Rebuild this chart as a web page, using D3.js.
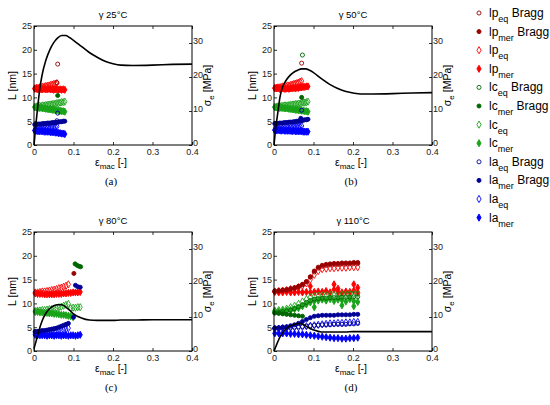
<!DOCTYPE html>
<html lang="en">
<head>
<meta charset="UTF-8">
<script src="https://d3js.org/d3.v7.min.js"></script>
<title>Lamellar dimensions vs strain</title>
<style>
  body { margin: 0; background: #fff; }
  svg { font-family: "Liberation Sans", Arial, sans-serif; }
  .tick text { font-size: 9px; fill: #222; }
  .domain { display: none; }
</style>
</head>
<body>
<div id="container"></div>
<script>
// ---- axis ticks / labels
var strainTicks = [0, 0.1, 0.2, 0.3, 0.4];
var lTicks = [0, 5, 10, 15, 20, 25];
var sigmaTicks = [0, 10, 20, 30];
var panelTitles = ["γ 25°C", "γ 50°C", "γ 80°C", "γ 110°C"];
var panelLetters = ["(a)", "(b)", "(c)", "(d)"];

// ---- stress-strain curves (MPa)
var strainS = [0, 0.005, 0.01, 0.015, 0.02, 0.03, 0.04, 0.05, 0.06, 0.07, 0.08, 0.09, 0.1, 0.12, 0.14, 0.16, 0.18, 0.2, 0.22, 0.25, 0.3, 0.35, 0.4];
var stressA = [0, 6.3, 11.9, 16.8, 20.3, 24.9, 28, 30.1, 31.5, 32.2, 32.2, 31.6, 30.8, 29, 27.2, 25.8, 24.6, 23.9, 23.5, 23.4, 23.5, 23.7, 23.8];
var stressB = [0, 5.6, 9.8, 14, 16.5, 18.9, 20.4, 21.4, 22, 22.4, 22.4, 22, 21.3, 19.5, 17.9, 16.7, 15.8, 15.3, 15, 15, 15.1, 15.3, 15.4];
var stressC = [0.7, 2.8, 4.9, 7, 8.7, 11.1, 12.5, 13.3, 13.6, 13.6, 13, 12, 10.9, 9.7, 9.1, 9, 9, 9, 9.1, 9.1, 9.2, 9.2, 9.2];
var stressD = [0, 1.4, 2.8, 4.1, 5, 6.4, 7.3, 7.8, 8.1, 8, 7.4, 6.7, 6.2, 5.6, 5.6, 5.6, 5.6, 5.7, 5.7, 5.7, 5.7, 5.7, 5.7];

// ---- (a) 25°C, strain points
var strainA = [0.002, 0.006, 0.010, 0.014, 0.018, 0.022, 0.026, 0.030, 0.034, 0.038, 0.042, 0.046, 0.050, 0.054, 0.058, 0.062, 0.066, 0.070, 0.074, 0.078];
var lpEqA = [11.9, 12.0, 12.0, 12.1, 12.2, 12.2, 12.3, 12.4, 12.4, 12.5, 12.6, 12.7, 12.8, 12.9, 13.0];
var lpMerA = [11.8, 11.8, 11.7, 11.8, 11.7, 11.7, 11.8, 11.7, 11.7, 11.8, 11.7, 11.7, 11.6, 11.7, 11.7, 11.6, 11.7, 11.6, 11.7, 11.6];
var lcEqA = [8.0, 8.1, 8.1, 8.2, 8.2, 8.3, 8.3, 8.4, 8.4, 8.5, 8.5, 8.6, 8.6, 8.7, 8.8, 8.8, 8.9, 9.0, 9.0, 9.1];
var lcMerA = [7.9, 7.9, 7.8, 7.8, 7.8, 7.7, 7.7, 7.6, 7.6, 7.5, 7.5, 7.4, 7.4, 7.3, 7.3, 7.2, 7.2, 7.1, 7.1, 7.0];
var laMerBraggA = [4.3, 4.3, 4.4, 4.4, 4.4, 4.5, 4.5, 4.5, 4.6, 4.6, 4.6, 4.7, 4.7, 4.7, 4.8, 4.8, 4.9, 4.9, 5.0, 5.0];
var laEqA = [3.1, 3.1, 3.2, 3.2, 3.3, 3.3, 3.4, 3.4, 3.5, 3.5, 3.6, 3.7, 3.7, 3.8, 3.9];
var laMerA = [3.0, 3.0, 2.9, 2.9, 2.9, 2.9, 2.8, 2.8, 2.8, 2.8, 2.7, 2.7, 2.7, 2.6, 2.6, 2.5, 2.5, 2.4, 2.4, 2.3];
var braggPtsA = [["lpEqB", 0.060, 17.0], ["lpEqB", 0.058, 13.1], ["lcMerB", 0.060, 10.4], ["laEqB", 0.060, 6.7], ["laEqB", 0.058, 5.1]];

// ---- (b) 50°C
var strainB = [0.002, 0.006, 0.010, 0.014, 0.018, 0.022, 0.026, 0.030, 0.034, 0.038, 0.042, 0.046, 0.050, 0.054, 0.058, 0.062, 0.066, 0.070, 0.074, 0.078, 0.082, 0.086];
var lpEqB = [12.0, 12.0, 12.1, 12.1, 12.2, 12.3, 12.3, 12.4, 12.5, 12.5, 12.6, 12.7, 12.8, 12.9, 13.0, 13.1, 13.3, 13.4];
var lpMerB = [11.9, 11.9, 11.9, 11.8, 11.8, 11.9, 11.8, 11.8, 11.9, 11.8, 11.9, 11.9, 12.0, 11.9, 12.0, 12.0, 12.1, 12.1, 12.2, 12.2, 12.3, 12.3];
var lcEqB = [8.0, 8.0, 8.1, 8.1, 8.2, 8.2, 8.3, 8.3, 8.3, 8.4, 8.4, 8.5, 8.5, 8.6, 8.6, 8.7, 8.7, 8.8, 8.9, 8.9, 9.0, 9.1];
var lcMerB = [7.9, 7.9, 7.9, 7.8, 7.8, 7.8, 7.7, 7.7, 7.7, 7.6, 7.6, 7.5, 7.5, 7.4, 7.4, 7.3, 7.3, 7.2, 7.2, 7.1, 7.1, 7.0];
var laMerBraggB = [4.5, 4.5, 4.5, 4.6, 4.6, 4.6, 4.7, 4.7, 4.7, 4.8, 4.8, 4.8, 4.9, 4.9, 5.0, 5.0, 5.1, 5.1, 5.2, 5.3, 5.3, 5.4];
var laEqB = [3.2, 3.2, 3.3, 3.3, 3.3, 3.4, 3.4, 3.4, 3.5, 3.5, 3.6, 3.6, 3.7, 3.7, 3.8, 3.8, 3.9, 4.0];
var laMerB = [3.1, 3.1, 3.1, 3.1, 3.0, 3.1, 3.0, 3.0, 3.0, 3.0, 3.0, 2.9, 3.0, 2.9, 2.9, 2.9, 2.9, 2.9, 2.8, 2.8, 2.8, 2.8];
var braggPtsB = [["lcEqB", 0.072, 18.9], ["lpEqB", 0.070, 17.2], ["lcMerB", 0.070, 10.0], ["laEqB", 0.070, 7.3], ["laMerB", 0.068, 5.6]];

// ---- (c) 80°C
var strainC = [0.003, 0.009, 0.015, 0.021, 0.027, 0.033, 0.039, 0.045, 0.051, 0.057, 0.063, 0.069, 0.075, 0.081, 0.087, 0.093, 0.099, 0.105, 0.111, 0.117];
var lpEqC = [12.3, 12.3, 12.4, 12.5, 12.5, 12.6, 12.7, 12.8, 12.9, 13.0, 13.2, 13.3, 13.5, 13.7, 14.0];
var lpMerC = [12.1, 12.0, 12.0, 12.0, 11.9, 11.9, 11.9, 11.9, 11.9, 12.0, 12.0, 12.0, 12.1, 12.1, 12.2, 12.2, 12.3, 12.3, 12.3, 12.4];
var lcEqC = [8.4, 8.5, 8.5, 8.6, 8.6, 8.7, 8.8, 8.8, 8.9, 9.0, 9.2, 9.3, 9.5, 9.7, 9.9, 9.0, 9.1, 9.1, 9.2, 9.2];
var lcMerC = [8.2, 8.2, 8.1, 8.1, 8.0, 8.0, 7.9, 7.9, 7.8, 7.8, 7.7, 7.6, 7.6, 7.5, 7.4, 7.3, 7.1];
var laMerBraggC = [4.1, 4.1, 4.2, 4.3, 4.3, 4.4, 4.5, 4.6, 4.7, 4.8, 5.0, 5.2, 5.4, 5.6, 5.8];
var laEqC = [3.8, 3.8, 3.8, 3.9, 3.9, 3.9, 4.0, 4.0, 4.1, 4.1, 4.2, 4.3, 4.4, 4.6, 4.8];
var laMerC = [3.4, 3.3, 3.3, 3.3, 3.3, 3.2, 3.3, 3.3, 3.2, 3.3, 3.3, 3.2, 3.3, 3.3, 3.2, 3.3, 3.3, 3.2, 3.3, 3.4];
var braggPtsC = [["lcMerB", 0.104, 18.3], ["lcMerB", 0.109, 18.0], ["lcMerB", 0.114, 17.8], ["lcMerB", 0.118, 17.7],
                 ["lpMerB", 0.101, 16.3], ["laMerB", 0.105, 13.8], ["laMerB", 0.111, 13.5], ["laMerB", 0.117, 13.4],
                 ["laMerB", 0.100, 7.1]];

// ---- (d) 110°C
var strainD = [0.002, 0.012, 0.022, 0.032, 0.042, 0.052, 0.062, 0.072, 0.082, 0.092, 0.102, 0.112, 0.122, 0.132, 0.142, 0.152, 0.162, 0.172, 0.182, 0.192, 0.202, 0.212];
var lpMerBraggD = [12.6, 12.7, 12.8, 12.9, 13.1, 13.3, 13.6, 14.0, 14.6, 15.6, 16.8, 17.6, 18.0, 18.2, 18.3, 18.4, 18.4, 18.5, 18.5, 18.5, 18.6, 18.6];
var lpEqBraggD = [12.5, 12.6, 12.7, 12.8, 13.0, 13.2, 13.5, 13.9, 14.5, 15.5, 16.6, 17.4, 17.8, 18.0, 18.1, 18.2, 18.2, 18.3, 18.3, 18.3, 18.4, 18.4];
var lpEqD = [12.5, 12.6, 12.7, 12.8, 13.0, 13.1, 13.4, 13.7, 14.2, 15.0, 16.0, 16.8, 17.2, 17.3, 17.4, 17.4, 17.5, 17.5, 17.5, 17.6, 17.6, 17.6];
var lpMerD = [12.4, 12.3, 12.3, 12.4, 12.3, 12.3, 12.4, 12.3, 12.4, 12.3, 12.4, 12.5, 12.4, 12.6, 12.3, 12.9, 12.4, 12.3, 12.5, 12.4, 12.7, 12.3];
var lcEqD = [8.5, 8.6, 8.7, 8.9, 9.2, 9.5, 9.9, 10.4, 10.9, 11.3, 11.5, 11.6, 11.7, 11.7, 11.8, 11.8, 11.9, 11.9, 11.9, 12.0, 12.0, 12.0];
var lcEqBraggD = [8.0, 8.1, 8.2, 8.4, 8.6, 8.9, 9.3, 9.7, 10.2, 10.6, 10.9, 11.0, 11.1, 11.1, 11.2, 11.2, 11.2, 11.3, 11.3, 11.3, 11.4, 11.4];
var lcMerD = [8.3, 8.3, 8.4, 8.5, 8.6, 8.8, 9.0, 9.4, 9.8, 10.2, 10.5, 10.6, 10.8, 10.6, 10.9, 10.5, 10.8, 10.7, 10.4, 10.9, 10.5, 10.3];
var lcMerBraggD = [8.0, 7.9, 7.8, 7.7, 7.6, 7.5, 7.4, 7.3];
var laMerBraggD = [4.8, 4.9, 5.0, 5.1, 5.3, 5.5, 5.8, 6.2, 6.6, 7.0, 7.3, 7.4, 7.5, 7.5, 7.5, 7.5, 7.6, 7.6, 7.6, 7.6, 7.7, 7.7];
var laEqBraggD = [4.8, 4.8, 4.9, 4.9, 5.0, 5.0, 5.1, 5.1, 5.2, 5.3, 5.4, 5.4, 5.5, 5.5, 5.5, 5.6, 5.6, 5.6, 5.6, 5.7, 5.7, 5.8];
var laEqD = [4.7, 4.7, 4.8, 4.8, 4.9, 5.0, 5.0, 5.1, 5.2, 5.3, 5.4, 5.5, 5.6, 5.7, 5.8, 5.8, 5.9, 5.9, 6.0, 6.0, 6.1, 6.1];
var laMerD = [3.7, 3.7, 3.7, 3.7, 3.6, 3.6, 3.5, 3.5, 3.4, 3.3, 3.2, 3.1, 3.0, 2.9, 2.8, 2.7, 2.7, 2.6, 2.6, 2.7, 2.7, 2.8];
var braggPtsD = [["lpMer", 0.152, 14.0], ["lpMer", 0.162, 13.1], ["lpMer", 0.202, 14.0], ["lpMer", 0.212, 13.3], ["lpMer", 0.092, 13.6],
                 ["lcMer", 0.102, 9.2], ["lcMer", 0.172, 9.6], ["lcMer", 0.202, 9.4]];

// ---- series styles (legend order)
var series = [
  {key: "lpEqB",  base: "lp", sub: "eq",  bragg: true,  color: "#990000", shape: "circle",  fill: false},
  {key: "lpMerB", base: "lp", sub: "mer", bragg: true,  color: "#990000", shape: "circle",  fill: true},
  {key: "lpEq",   base: "lp", sub: "eq",  bragg: false, color: "#ff0000", shape: "diamond", fill: false},
  {key: "lpMer",  base: "lp", sub: "mer", bragg: false, color: "#ff0000", shape: "diamond", fill: true},
  {key: "lcEqB",  base: "lc", sub: "eq",  bragg: true,  color: "#006600", shape: "circle",  fill: false},
  {key: "lcMerB", base: "lc", sub: "mer", bragg: true,  color: "#006600", shape: "circle",  fill: true},
  {key: "lcEq",   base: "lc", sub: "eq",  bragg: false, color: "#1aa31a", shape: "diamond", fill: false},
  {key: "lcMer",  base: "lc", sub: "mer", bragg: false, color: "#1aa31a", shape: "diamond", fill: true},
  {key: "laEqB",  base: "la", sub: "eq",  bragg: true,  color: "#000099", shape: "circle",  fill: false},
  {key: "laMerB", base: "la", sub: "mer", bragg: true,  color: "#000099", shape: "circle",  fill: true},
  {key: "laEq",   base: "la", sub: "eq",  bragg: false, color: "#0000ff", shape: "diamond", fill: false},
  {key: "laMer",  base: "la", sub: "mer", bragg: false, color: "#0000ff", shape: "diamond", fill: true}
];
var styleOf = {};
series.forEach(function(s){ styleOf[s.key] = s; });

// panel content: [seriesKey, values] drawn against the panel's strain points
var panels = [
  {x: strainA, stress: stressA, extra: braggPtsA,
   sets: [["lpMer", lpMerA], ["lpEq", lpEqA], ["lcMer", lcMerA], ["lcEq", lcEqA], ["laMer", laMerA], ["laEq", laEqA], ["laMerB", laMerBraggA]]},
  {x: strainB, stress: stressB, extra: braggPtsB,
   sets: [["lpMer", lpMerB], ["lpEq", lpEqB], ["lcMer", lcMerB], ["lcEq", lcEqB], ["laMer", laMerB], ["laEq", laEqB], ["laMerB", laMerBraggB]]},
  {x: strainC, stress: stressC, extra: braggPtsC,
   sets: [["lpMer", lpMerC], ["lpEq", lpEqC], ["lcMer", lcMerC], ["lcEq", lcEqC], ["laMer", laMerC], ["laEq", laEqC], ["laMerB", laMerBraggC]]},
  {x: strainD, stress: stressD, extra: braggPtsD,
   sets: [["lpMer", lpMerD], ["lpEq", lpEqD], ["lpEqB", lpEqBraggD], ["lpMerB", lpMerBraggD],
          ["lcMer", lcMerD], ["lcEq", lcEqD], ["lcEqB", lcEqBraggD], ["lcMerB", lcMerBraggD],
          ["laMer", laMerD], ["laEq", laEqD], ["laEqB", laEqBraggD], ["laMerB", laMerBraggD]]}
];

var W = 550, H = 405;
var pw = 158, ph = 119;
var origins = [[34, 26], [274, 26], [34, 232], [274, 232]];

var svg = d3.select("#container").append("svg").attr("width", W).attr("height", H);

function marker(g, s, x, y) {
  var sym = d3.symbol().type(s.shape === "circle" ? d3.symbolCircle : d3.symbolDiamond)
              .size(s.shape === "circle" ? 13 : 15);
  g.append("path")
    .attr("d", sym)
    .attr("transform", "translate(" + x + "," + y + ")")
    .attr("fill", s.fill ? s.color : "none")
    .attr("stroke", s.color)
    .attr("stroke-width", 0.9);
}

panels.forEach(function(p, i) {
  var ox = origins[i][0], oy = origins[i][1];
  var g = svg.append("g").attr("transform", "translate(" + ox + "," + oy + ")");

  var x = d3.scaleLinear().domain([0, 0.4]).range([0, pw]);
  var yL = d3.scaleLinear().domain([0, 25]).range([ph, 0]);
  var yS = d3.scaleLinear().domain([0, 35]).range([ph, 0]);

  // scatter
  var dots = g.append("g");
  p.sets.forEach(function(set) {
    var s = styleOf[set[0]];
    set[1].forEach(function(v, k) { marker(dots, s, x(p.x[k]), yL(v)); });
  });
  p.extra.forEach(function(e) { marker(dots, styleOf[e[0]], x(e[1]), yL(e[2])); });

  // stress curve
  var line = d3.line().x(function(d, k){ return x(strainS[k]); }).y(function(d){ return yS(d); })
               .curve(d3.curveMonotoneX);
  g.append("path").datum(p.stress).attr("d", line)
    .attr("fill", "none").attr("stroke", "#000").attr("stroke-width", 1.6);

  // axes, ticks inward
  g.append("g").attr("transform", "translate(0," + ph + ")")
    .call(d3.axisBottom(x).tickValues(strainTicks).tickSizeInner(-3).tickSizeOuter(0).tickPadding(4)
      .tickFormat(function(d){ return d === 0 ? "0" : d3.format(".1f")(d); }));
  g.append("g")
    .call(d3.axisTop(x).tickValues(strainTicks).tickSizeInner(-3).tickSizeOuter(0).tickFormat(""));
  g.append("g")
    .call(d3.axisLeft(yL).tickValues(lTicks).tickSizeInner(-3).tickSizeOuter(0).tickPadding(2));
  var ra = g.append("g").attr("transform", "translate(" + pw + ",0)")
    .call(d3.axisRight(yS).tickValues(sigmaTicks).tickSizeInner(-3).tickSizeOuter(0).tickPadding(1));
  ra.selectAll("text").attr("dy", "0.1em");
  g.selectAll(".tick line").attr("stroke", "#000").attr("stroke-width", 0.8);

  g.append("rect").attr("width", pw).attr("height", ph)
    .attr("fill", "none").attr("stroke", "#000").attr("stroke-width", 1);

  // labels
  g.append("text").attr("x", pw / 2).attr("y", -8).attr("text-anchor", "middle")
    .attr("font-size", 9.5).text(panelTitles[i]);

  var xl = g.append("text").attr("x", pw / 2 - 2).attr("y", ph + 21).attr("text-anchor", "middle")
    .attr("font-size", 10.5);
  xl.append("tspan").text("ε");
  xl.append("tspan").attr("dy", 3).attr("font-size", 8).text("mac");
  xl.append("tspan").attr("dy", -3).text(" [-]");

  g.append("text").attr("transform", "translate(-18," + (ph / 2) + ") rotate(-90)")
    .attr("text-anchor", "middle").attr("font-size", 10.5).text("L [nm]");

  var yr = g.append("text").attr("transform", "translate(" + (pw + 19) + "," + (ph / 2) + ") rotate(-90)")
    .attr("text-anchor", "middle").attr("font-size", 10.5);
  yr.append("tspan").text("σ");
  yr.append("tspan").attr("dy", 3).attr("font-size", 8).text("e");
  yr.append("tspan").attr("dy", -3).text(" [MPa]");

  g.append("text").attr("x", pw / 2 - 2).attr("y", ph + 40).attr("text-anchor", "middle")
    .attr("font-family", "'Liberation Serif', 'Times New Roman', serif").attr("font-size", 11)
    .text(panelLetters[i]);
});

// legend
var lg = svg.append("g").attr("transform", "translate(479,13)");
series.forEach(function(s, k) {
  var row = lg.append("g").attr("transform", "translate(0," + (k * 18.6) + ")");
  marker(row, s, 0, 0);
  var t = row.append("text").attr("x", 10).attr("y", 4).attr("font-size", 12);
  t.append("tspan").text(s.base);
  t.append("tspan").attr("dy", 5).attr("font-size", 9).text(s.sub);
  if (s.bragg) t.append("tspan").attr("dy", -5).text(" Bragg");
});
</script>
</body>
</html>
